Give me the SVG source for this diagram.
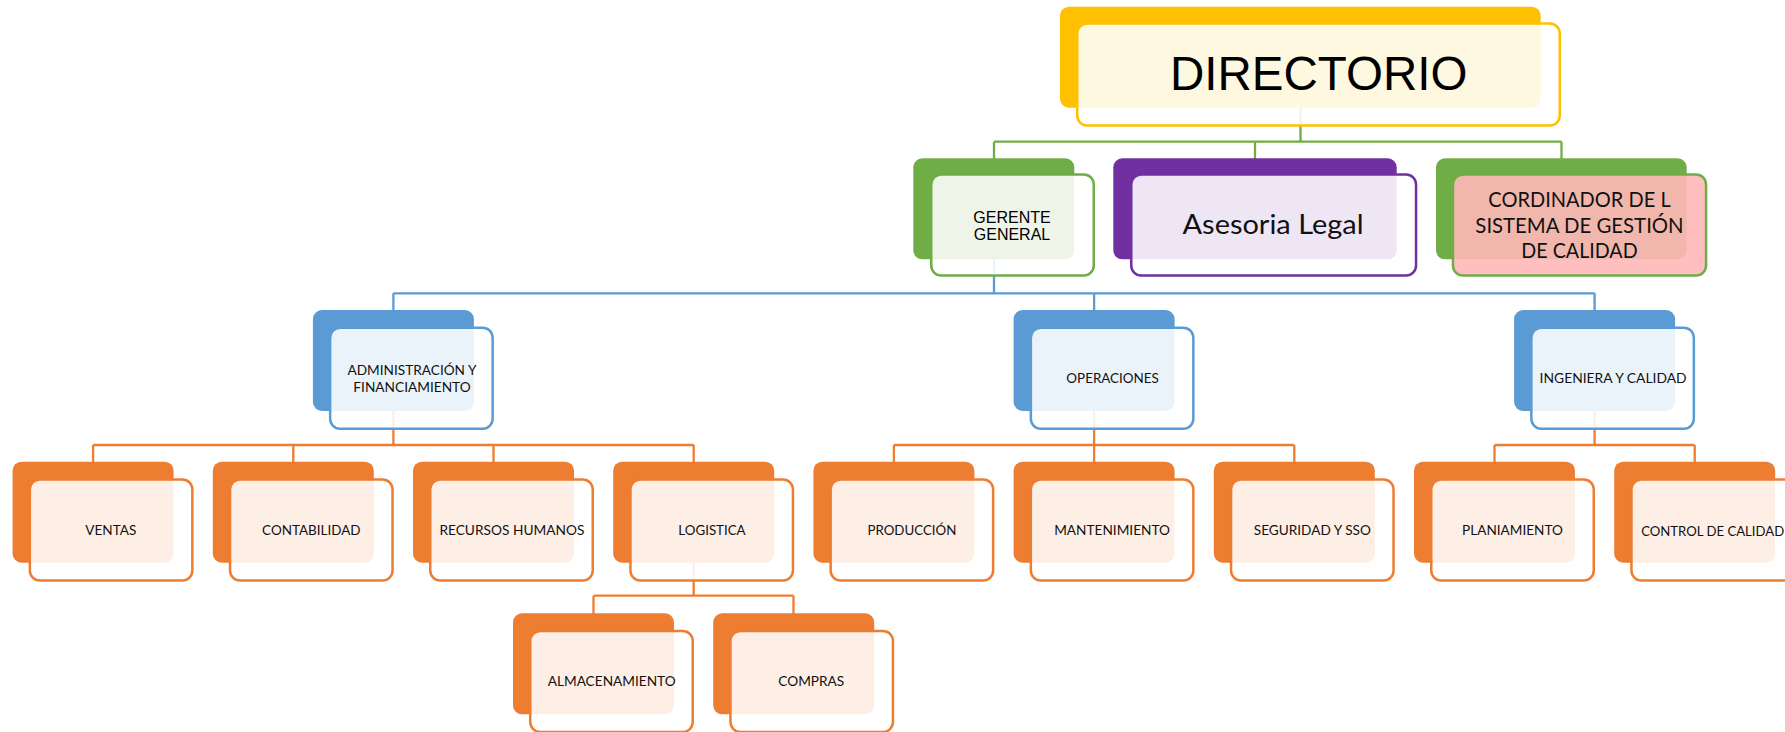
<svg xmlns="http://www.w3.org/2000/svg" width="1785" height="732" viewBox="0 0 1785 732">
  <style>
    .conn { fill: none; stroke-width: 2.3; }
    .cg { stroke: #70AD47; }
    .cb { stroke: #5B9BD5; }
    .co { stroke: #ED7D31; }
    .back { stroke: none; }
    .front { fill: #ffffff; fill-opacity: 0.88; stroke-width: 2.5; }
    .yellow .back { fill: #FFC000; } .yellow .front { stroke: #FFC000; }
    .green .back { fill: #70AD47; } .green .front { stroke: #70AD47; }
    .purple .back { fill: #7030A0; } .purple .front { stroke: #7030A0; }
    .blue .back { fill: #5B9BD5; } .blue .front { stroke: #5B9BD5; }
    .orange .back { fill: #ED7D31; } .orange .front { stroke: #ED7D31; }
    .pink .front { fill: #FFB8B8; fill-opacity: 0.9; }
    .lbl { font-family: Lato, "Open Sans", sans-serif; font-size: 14px; fill: #111; text-anchor: middle; }
    .lbl.big { font-size: 27px; }
    .lbl.mid { font-size: 21.5px; }
    .arial { font-family: "Liberation Sans", Arial, sans-serif; fill: #000; text-anchor: middle; font-size: 16px; }
    .arial.title { font-size: 47.5px; }
  </style>

  <!-- connectors -->
  <g id="connectors" class="conn">
    <path class="cg" d="M1300.5 60 V141.7 M994 141.7 H1561.5 M994 141.7 V160 M1255 141.7 V160 M1561.5 141.7 V160"/>
    <path class="cb" d="M994 210 V293.3 M393.4 293.3 H1594.6 M393.4 293.3 V312 M1094.1 293.3 V312 M1594.6 293.3 V312"/>
    <path class="co" d="M393.4 360 V445 M93.1 445 H693.7 M93.1 445 V463 M293.3 445 V463 M493.5 445 V463 M693.7 445 V463"/>
    <path class="co" d="M1094.1 360 V445 M893.9 445 H1294.3 M893.9 445 V463 M1094.1 445 V463 M1294.3 445 V463"/>
    <path class="co" d="M1594.6 360 V445 M1494.5 445 H1694.7 M1494.5 445 V463 M1694.7 445 V463"/>
    <path class="co" d="M693.7 510 V595.7 M593.5 595.7 H793.5 M593.5 595.7 V615 M793.5 595.7 V615"/>
  </g>

  <!-- level 1 -->
  <g id="directorio" class="yellow">
    <rect class="back" x="1060" y="6.7" width="480.7" height="101" rx="9"/>
    <rect class="front" x="1077.25" y="23.55" width="482.5" height="101.9" rx="10"/>
    <text class="arial title" x="1318.7" y="89.5">DIRECTORIO</text>
  </g>

  <!-- level 2 -->
  <g id="gerente-general" class="green">
    <rect class="back" x="913.3" y="158.3" width="161" height="101" rx="9"/>
    <rect class="front" x="931.25" y="174.55" width="162.5" height="101" rx="10"/>
    <text class="arial" x="1012" y="223.3">GERENTE</text>
    <text class="arial" x="1012" y="240">GENERAL</text>
  </g>
  <g id="asesoria-legal" class="purple">
    <rect class="back" x="1113.3" y="158.3" width="283.4" height="101" rx="9"/>
    <rect class="front" x="1131.25" y="174.55" width="284.8" height="101" rx="10"/>
    <text class="lbl big" x="1273" y="234.3" textLength="181" lengthAdjust="spacingAndGlyphs">Asesoria Legal</text>
  </g>
  <g id="coordinador-sgc" class="green pink">
    <rect class="back" x="1436" y="158.3" width="250.7" height="101" rx="9"/>
    <rect class="front" x="1452.95" y="174.55" width="253.1" height="101" rx="10"/>
    <text class="lbl mid" x="1579.5" y="207.3" textLength="182.4" lengthAdjust="spacingAndGlyphs">CORDINADOR DE L</text>
    <text class="lbl mid" x="1579.5" y="232.7" textLength="208.3" lengthAdjust="spacingAndGlyphs">SISTEMA DE GESTIÓN</text>
    <text class="lbl mid" x="1579.5" y="258.3" textLength="116.3" lengthAdjust="spacingAndGlyphs">DE CALIDAD</text>
  </g>

  <!-- level 3 -->
  <g id="administracion" class="blue">
    <rect class="back" x="312.9" y="310" width="161" height="101" rx="9"/>
    <rect class="front" x="330.15" y="327.75" width="162.5" height="101" rx="10"/>
    <text class="lbl" x="412" y="375" textLength="129" lengthAdjust="spacingAndGlyphs">ADMINISTRACIÓN Y</text>
    <text class="lbl" x="412" y="392" textLength="117.3" lengthAdjust="spacingAndGlyphs">FINANCIAMIENTO</text>
  </g>
  <g id="operaciones" class="blue">
    <rect class="back" x="1013.6" y="310" width="161" height="101" rx="9"/>
    <rect class="front" x="1030.85" y="327.75" width="162.5" height="101" rx="10"/>
    <text class="lbl" x="1112.6" y="383.3" textLength="92.5" lengthAdjust="spacingAndGlyphs">OPERACIONES</text>
  </g>
  <g id="ingenieria" class="blue">
    <rect class="back" x="1514.1" y="310" width="161" height="101" rx="9"/>
    <rect class="front" x="1531.35" y="327.75" width="162.5" height="101" rx="10"/>
    <text class="lbl" x="1613.1" y="383.3" textLength="147" lengthAdjust="spacingAndGlyphs">INGENIERA Y CALIDAD</text>
  </g>

  <!-- level 4 -->
  <g id="ventas" class="orange">
    <rect class="back" x="12.6" y="461.7" width="161" height="101" rx="9"/>
    <rect class="front" x="29.85" y="479.45" width="162.5" height="101" rx="10"/>
    <text class="lbl" x="110.8" y="535" textLength="51" lengthAdjust="spacingAndGlyphs">VENTAS</text>
  </g>
  <g id="contabilidad" class="orange">
    <rect class="back" x="212.8" y="461.7" width="161" height="101" rx="9"/>
    <rect class="front" x="230.05" y="479.45" width="162.5" height="101" rx="10"/>
    <text class="lbl" x="311.3" y="535" textLength="98.4" lengthAdjust="spacingAndGlyphs">CONTABILIDAD</text>
  </g>
  <g id="recursos-humanos" class="orange">
    <rect class="back" x="413" y="461.7" width="161" height="101" rx="9"/>
    <rect class="front" x="430.25" y="479.45" width="162.5" height="101" rx="10"/>
    <text class="lbl" x="511.9" y="535" textLength="145" lengthAdjust="spacingAndGlyphs">RECURSOS HUMANOS</text>
  </g>
  <g id="logistica" class="orange">
    <rect class="back" x="613.2" y="461.7" width="161" height="101" rx="9"/>
    <rect class="front" x="630.45" y="479.45" width="162.5" height="101" rx="10"/>
    <text class="lbl" x="712" y="535" textLength="67.3" lengthAdjust="spacingAndGlyphs">LOGISTICA</text>
  </g>
  <g id="produccion" class="orange">
    <rect class="back" x="813.4" y="461.7" width="161" height="101" rx="9"/>
    <rect class="front" x="830.65" y="479.45" width="162.5" height="101" rx="10"/>
    <text class="lbl" x="911.9" y="535" textLength="89" lengthAdjust="spacingAndGlyphs">PRODUCCIÓN</text>
  </g>
  <g id="mantenimiento" class="orange">
    <rect class="back" x="1013.6" y="461.7" width="161" height="101" rx="9"/>
    <rect class="front" x="1030.85" y="479.45" width="162.5" height="101" rx="10"/>
    <text class="lbl" x="1112.1" y="535" textLength="115.8" lengthAdjust="spacingAndGlyphs">MANTENIMIENTO</text>
  </g>
  <g id="seguridad-sso" class="orange">
    <rect class="back" x="1213.8" y="461.7" width="161" height="101" rx="9"/>
    <rect class="front" x="1231.05" y="479.45" width="162.5" height="101" rx="10"/>
    <text class="lbl" x="1312.3" y="535" textLength="117" lengthAdjust="spacingAndGlyphs">SEGURIDAD Y SSO</text>
  </g>
  <g id="planiamiento" class="orange">
    <rect class="back" x="1414" y="461.7" width="161" height="101" rx="9"/>
    <rect class="front" x="1431.25" y="479.45" width="162.5" height="101" rx="10"/>
    <text class="lbl" x="1512.5" y="535" textLength="100.8" lengthAdjust="spacingAndGlyphs">PLANIAMIENTO</text>
  </g>
  <g id="control-calidad" class="orange">
    <rect class="back" x="1614.2" y="461.7" width="161" height="101" rx="9"/>
    <rect class="front" x="1631.45" y="479.45" width="162.5" height="101" rx="10"/>
    <text class="lbl" x="1712.7" y="535.5" textLength="143" lengthAdjust="spacingAndGlyphs">CONTROL DE CALIDAD</text>
  </g>

  <!-- level 5 -->
  <g id="almacenamiento" class="orange">
    <rect class="back" x="513" y="613.3" width="161" height="101" rx="9"/>
    <rect class="front" x="530.25" y="631.05" width="162.5" height="101" rx="10"/>
    <text class="lbl" x="611.7" y="686.3" textLength="128" lengthAdjust="spacingAndGlyphs">ALMACENAMIENTO</text>
  </g>
  <g id="compras" class="orange">
    <rect class="back" x="713.2" y="613.3" width="161" height="101" rx="9"/>
    <rect class="front" x="730.45" y="631.05" width="162.5" height="101" rx="10"/>
    <text class="lbl" x="811.3" y="686.3" textLength="66" lengthAdjust="spacingAndGlyphs">COMPRAS</text>
  </g>
</svg>
